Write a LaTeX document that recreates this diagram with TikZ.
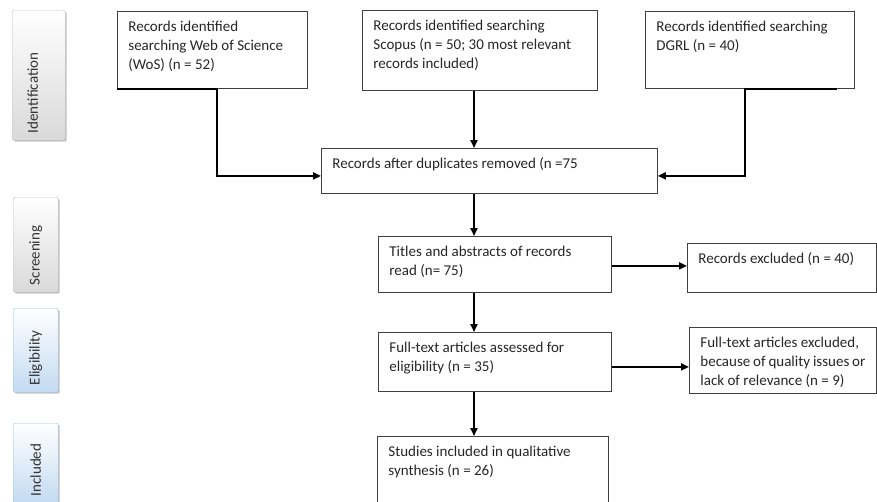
\documentclass[tikz,border=0pt]{standalone}
\usepackage{fontspec}
\setmainfont{Carlito}
\usetikzlibrary{arrows.meta,shadows}

\definecolor{boxline}{HTML}{404040}
\definecolor{tabline}{HTML}{C4C4C4}
\definecolor{tabgrayfill}{HTML}{D9D9D9}
\definecolor{tabblueline}{HTML}{9DC3E6}
\definecolor{tabbluefill}{HTML}{C3DAF1}

% text of a flow box, set at its top left
\newcommand{\boxtext}[3]{\parbox[c][#2][t]{#1}{\vspace{9.5pt}#3}}

\tikzset{
  flowbox/.style={draw=boxline, line width=0.8pt, anchor=north west,
    inner xsep=11pt, inner ysep=0pt, text=black!85,
    font=\fontsize{15pt}{19.3pt}\selectfont},
  link/.style={draw=black, line width=1.9pt, -{Triangle[length=8pt,width=7pt]}},
  tab/.style={anchor=north west, rounded corners=2pt, inner sep=0pt,
    drop shadow={shadow xshift=1.5pt, shadow yshift=-1.5pt, fill=black!40, opacity=0.6}},
  graytab/.style={tab, draw=tabline, top color=white, bottom color=tabgrayfill},
  bluetab/.style={tab, draw=tabblueline, top color=white, bottom color=tabbluefill},
  tablabel/.style={rotate=90, anchor=west, inner sep=0pt, text=black!80,
    font=\fontsize{15pt}{17pt}\selectfont}
}

\begin{document}
\begin{tikzpicture}[x=1pt,y=-1pt]
  \useasboundingbox (0,0) rectangle (877,501);
  \clip (0,0) rectangle (877,501);

  % stage tabs
  \node[graytab, minimum width=53pt, minimum height=130pt] (ident) at (12,10) {};
  \node[tablabel] (identlbl) at ([shift={(-6pt,7pt)}]ident.south) {Identification};
  \node[graytab, minimum width=45pt, minimum height=95pt] (screen) at (13,197) {};
  \node[tablabel] (screenlbl) at ([yshift=7pt]screen.south) {Screening};
  \node[bluetab, minimum width=45pt, minimum height=84pt] (elig) at (13,308) {};
  \node[tablabel] (eliglbl) at ([yshift=7pt]elig.south) {Eligibility};
  \node[bluetab, minimum width=45pt, minimum height=80pt] (incl) at (13,423) {};
  \node[tablabel] (incllbl) at ([yshift=7pt]incl.south) {Included};

  % flow boxes
  \node[flowbox] (wos) at (117,11)
    {\boxtext{168pt}{77pt}{Records identified\\searching Web of Science\\(WoS) (n = 52)}};
  \node[flowbox] (scopus) at (362,10)
    {\boxtext{213pt}{80pt}{Records identified searching\\Scopus (n = 50; 30 most relevant\\records included)}};
  \node[flowbox] (dgrl) at (645,11)
    {\boxtext{187pt}{77pt}{Records identified searching\\DGRL (n = 40)}};
  \node[flowbox] (after) at (321,148)
    {\boxtext{314pt}{45pt}{Records after duplicates removed (n =75}};
  \node[flowbox] (titles) at (378,236)
    {\boxtext{211pt}{56pt}{Titles and abstracts of records\\read (n= 75)}};
  \node[flowbox] (excl) at (687,243)
    {\boxtext{167pt}{49pt}{Records excluded (n = 40)}};
  \node[flowbox] (full) at (378,332)
    {\boxtext{211pt}{59pt}{Full-text articles assessed for\\eligibility (n = 35)}};
  \node[flowbox] (exclfull) at (689,327)
    {\boxtext{165pt}{66pt}{Full-text articles excluded,\\because of quality issues or\\lack of relevance (n = 9)}};
  \node[flowbox] (studies) at (377,436)
    {\boxtext{209pt}{80pt}{Studies included in qualitative\\synthesis (n = 26)}};

  \coordinate (spine) at (474,0);
  \coordinate (titlesout) at ([yshift=-1.5pt]titles.east);
  \coordinate (fullout) at ([yshift=-5pt]full.east);

  % connectors
  \draw[link] (wos.south west) -- ([xshift=100pt]wos.south west) |- ([yshift=-5pt]after.west);
  \draw[link] (scopus.south -| spine) -- (after.north -| spine);
  \draw[link] ([xshift=-18pt]dgrl.south east) -- ([xshift=-4.5pt]dgrl.south) |- ([yshift=-5pt]after.east);
  \draw[link] (after.south -| spine) -- (titles.north -| spine);
  \draw[link] (titlesout) -- (excl.west |- titlesout);
  \draw[link] (titles.south -| spine) -- (full.north -| spine);
  \draw[link] (fullout) -- (exclfull.west |- fullout);
  \draw[link] (full.south -| spine) -- (studies.north -| spine);
\end{tikzpicture}
\end{document}
